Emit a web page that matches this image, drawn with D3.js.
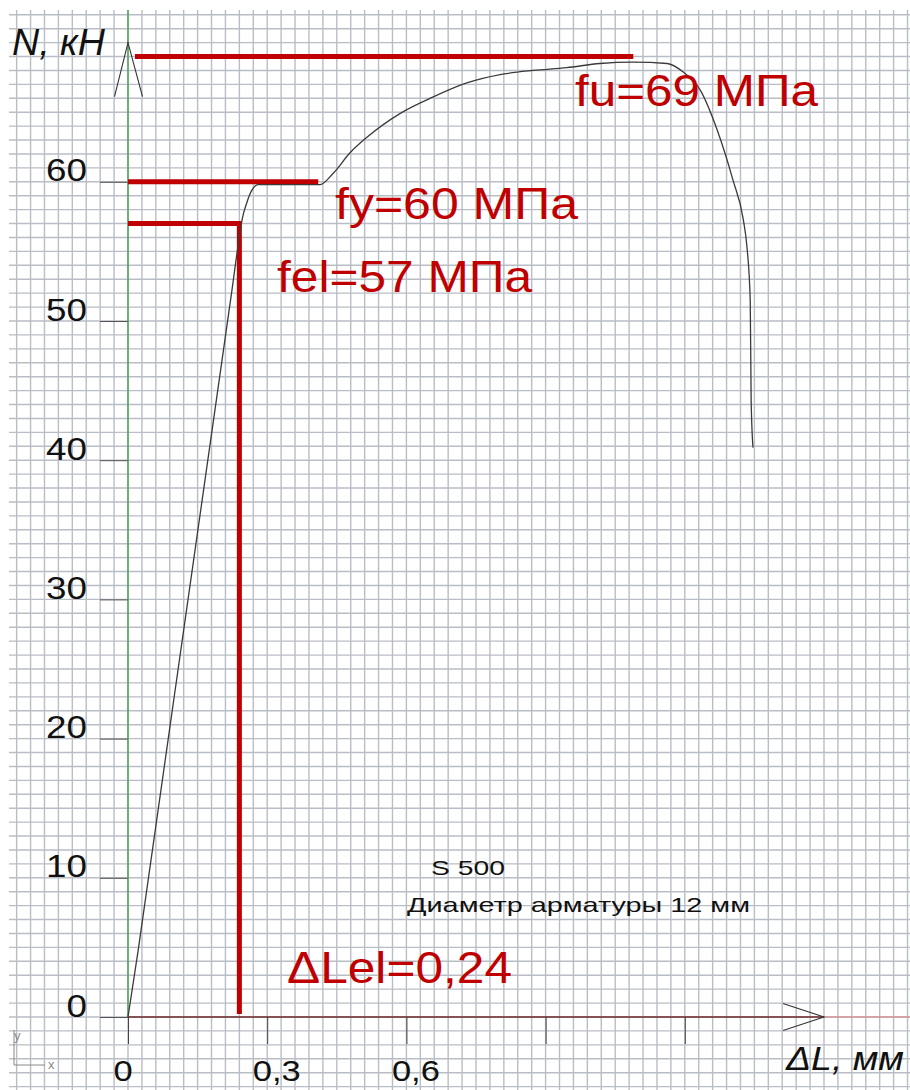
<!DOCTYPE html>
<html>
<head>
<meta charset="utf-8">
<script src="https://cdn.jsdelivr.net/npm/d3@7"></script>
<style>
  html, body { margin: 0; padding: 0; background: #fff; }
  svg { display: block; }
  text { font-family: "Liberation Sans", Arial, sans-serif; }
</style>
</head>
<body>
<svg id="chart" width="910" height="1090"></svg>
<script>
// Load vs. elongation diagram for a reinforcing bar, S 500, Ø12 mm

// measured curve: elongation ΔL (mm) and axial load N (kN)
const elongationMM = [0, 0.022, 0.224, 0.238, 0.246, 0.256, 0.267, 0.280, 0.330, 0.414,
  0.442, 0.479, 0.515, 0.586, 0.658, 0.730, 0.802, 0.873, 0.945, 1.017, 1.089,
  1.162, 1.196, 1.233, 1.270, 1.304, 1.326, 1.334, 1.341, 1.343, 1.347];
const loadKN = [0, 4.8, 52.2, 55.6, 57.3, 58.5, 59.4, 59.8, 59.8, 59.8,
  60.6, 62.1, 63.2, 64.9, 66.1, 67.1, 67.7, 68.0, 68.2, 68.5, 68.6,
  68.5, 67.9, 66.6, 63.7, 60.1, 57.3, 55.3, 51.5, 44.3, 40.9];

// characteristic levels
const fu = 69, fy = 60, fel = 57, dLel = 0.24;
const fuSpan = [0.015, 1.089];   // extent of the fu marker along ΔL
const fySpan = [0, 0.41];        // extent of the fy marker along ΔL

// axes
const yTicks = [0, 10, 20, 30, 40, 50, 60];
const xTicks = [0, 0.3, 0.6, 0.9, 1.2];
const xTickLabels = ["0", "0,3", "0,6", "", ""];
const xAxisEnd = 1.5, yAxisEnd = 70;   // arrow tips
const gridStepX = 0.03, gridStepY = 1;  // graph-paper cell

const labels = {
  fu: "fu=69 МПа", fy: "fy=60 МПа", fel: "fel=57 МПа", dLel: "ΔLel=0,24",
  grade: "S 500", dia: "Диаметр арматуры 12 мм",
  yTitle: "N, кН", xTitle: "ΔL, мм"
};

const W = 910, H = 1090;
const RED = "#c00000";
const svg = d3.select("#chart");

const x = d3.scaleLinear().domain([0, 0.3]).range([128, 267.2]);
const y = d3.scaleLinear().domain([0, 60]).range([1017, 181.8]);

// ---- graph paper ----
const gridL = 9, gridT = 10;
const grid = svg.append("g").attr("class", "grid")
  .attr("stroke", "#b9bdc5").attr("stroke-width", 1.4);
const vx = d3.range(-9, 60).map(k => x(k * gridStepX)).filter(p => p >= gridL && p <= W);
const hy = d3.range(-6, 80).map(k => y(k * gridStepY)).filter(p => p >= gridT && p <= H);
grid.selectAll("line.v").data(vx).join("line").attr("class", "v")
  .attr("x1", d => d).attr("x2", d => d).attr("y1", gridT).attr("y2", H);
grid.selectAll("line.h").data(hy).join("line").attr("class", "h")
  .attr("y1", d => d).attr("y2", d => d).attr("x1", gridL).attr("x2", W);

// helper: widen text a little, as the drawing's font is set wide
function widen(sel, k) {
  sel.each(function () {
    const len = this.getComputedTextLength();
    if (len > 0) d3.select(this).attr("textLength", len * k).attr("lengthAdjust", "spacingAndGlyphs");
  });
}

// ---- y axis ----
const yAxis = svg.append("g").attr("transform", `translate(${x(0)},0)`)
  .call(d3.axisLeft(y).tickValues(yTicks).tickSize(28).tickPadding(13).tickFormat(d3.format("d")));
yAxis.select(".domain").remove();
yAxis.selectAll(".tick line").attr("stroke", "#555").attr("stroke-width", 1);
yAxis.selectAll(".tick text").attr("dy", null).attr("y", -1)
  .attr("font-size", 32).attr("fill", "#111")
  .style("font-family", "'Liberation Sans', Arial, sans-serif");
widen(yAxis.selectAll(".tick text"), 1.15);

// ---- x axis ----
const xAxis = svg.append("g").attr("transform", `translate(0,${y(0)})`)
  .call(d3.axisBottom(x).tickValues(xTicks).tickSize(27).tickFormat((d, i) => xTickLabels[i]));
xAxis.select(".domain").remove();
xAxis.selectAll(".tick line").attr("stroke", "#444").attr("stroke-width", 1);
xAxis.selectAll(".tick text").attr("dy", null).attr("y", 64).attr("x", -15)
  .attr("text-anchor", "start").attr("font-size", 30).attr("fill", "#111")
  .style("font-family", "'Liberation Sans', Arial, sans-serif");
widen(xAxis.selectAll(".tick text"), 1.15);

// axis lines
svg.append("line").attr("x1", x(xAxisEnd)).attr("x2", W).attr("y1", y(0)).attr("y2", y(0))
  .attr("stroke", "#e07a7a").attr("stroke-width", 1.2);
svg.append("line").attr("x1", x(0)).attr("x2", x(xAxisEnd)).attr("y1", y(0)).attr("y2", y(0))
  .attr("stroke", "#6e2a2a").attr("stroke-width", 1.4);
svg.append("line").attr("x1", x(0)).attr("x2", x(0)).attr("y1", gridT).attr("y2", y(0))
  .attr("stroke", "#2f9a3a").attr("stroke-width", 1.2);

// arrow heads
const ay = y(yAxisEnd), ax = x(xAxisEnd);
svg.append("path")
  .attr("d", `M${x(0) - 13.5},${ay + 54}L${x(0)},${ay}L${x(0) + 14.5},${ay + 54}`)
  .attr("fill", "none").attr("stroke", "#333").attr("stroke-width", 1.1);
svg.append("path")
  .attr("d", `M${ax - 41},${y(0) - 13.5}L${ax},${y(0)}L${ax - 41},${y(0) + 13.5}`)
  .attr("fill", "none").attr("stroke", "#333").attr("stroke-width", 1.1);

// ---- characteristic markers ----
const marks = svg.append("g").attr("stroke", RED).attr("stroke-width", 5).attr("fill", "none");
marks.append("line").attr("x1", x(fuSpan[0])).attr("x2", x(fuSpan[1]))
  .attr("y1", y(fu)).attr("y2", y(fu));
marks.append("line").attr("x1", x(fySpan[0])).attr("x2", x(fySpan[1]))
  .attr("y1", y(fy)).attr("y2", y(fy));
marks.append("path")
  .attr("d", `M${x(0)},${y(fel)}H${x(dLel)}V${y(0) - 3}`)
  .attr("stroke-linejoin", "miter");

// ---- load curve ----
const line = d3.line().x(d => x(d[0])).y(d => y(d[1])).curve(d3.curveMonotoneX);
svg.append("path")
  .datum(elongationMM.map((d, i) => [d, loadKN[i]]))
  .attr("d", line)
  .attr("fill", "none").attr("stroke", "#3a3a3a").attr("stroke-width", 1.3);

// ---- annotations ----
function addText(txt, px, py, size, fill, width, italic) {
  const t = svg.append("text").attr("x", px).attr("y", py)
    .attr("font-size", size).attr("fill", fill).text(txt);
  if (italic) t.attr("font-style", "italic");
  if (width) t.attr("textLength", width).attr("lengthAdjust", "spacingAndGlyphs");
  return t;
}
addText(labels.fu, 575, 106, 45, RED, 243);
addText(labels.fy, 335, 219, 45, RED, 243);
addText(labels.fel, 277, 292, 45, RED, 255);
addText(labels.dLel, 287, 983, 45, RED, 225);
addText(labels.grade, 431, 875, 21, "#111", 74);
addText(labels.dia, 407, 912, 21, "#111", 343);
addText(labels.yTitle, 12, 55, 37, "#111", 93, true);
addText(labels.xTitle, 786, 1070, 33, "#111", 118, true);

// small coordinate-system glyph in the corner
svg.append("path").attr("d", "M14,1030V1065H45")
  .attr("fill", "none").attr("stroke", "#8a8a8a").attr("stroke-width", 1);
addText("y", 14, 1040, 13, "#8a8a8a");
addText("x", 48, 1069, 13, "#8a8a8a");
</script>
</body>
</html>
